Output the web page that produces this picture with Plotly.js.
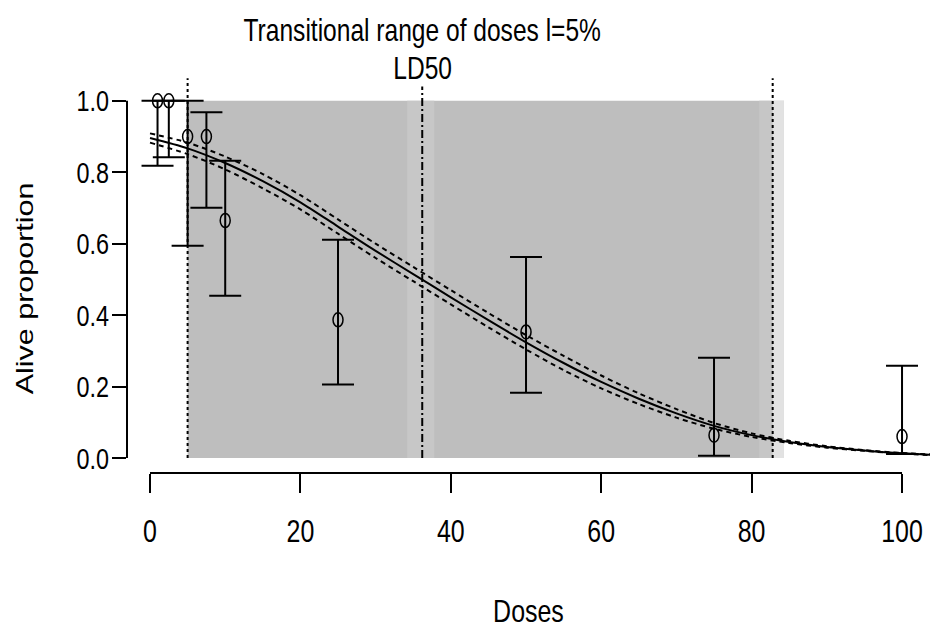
<!DOCTYPE html>
<html>
<head>
<meta charset="utf-8">
<script src="https://cdn.plot.ly/plotly-3.0.1.min.js"></script>
<style>
  html, body { margin: 0; padding: 0; background: #ffffff; }
  #chart { width: 930px; height: 629px; }
</style>
</head>
<body>
<div id="chart"></div>
<script>
// Observed alive proportions with their confidence limits
const doses      = [1, 2.5, 5, 7.5, 10, 25, 50, 75, 100];
const alive      = [1.0, 1.0, 0.9, 0.9, 0.665, 0.387, 0.353, 0.064, 0.060];
const aliveUpper = [1.0, 1.0, 1.0, 0.968, 0.832, 0.611, 0.563, 0.281, 0.258];
const aliveLower = [0.818, 0.842, 0.594, 0.701, 0.454, 0.206, 0.183, 0.006, 0.011];

// Fitted dose-response curve and its confidence envelope
const fitDoses = [0, 5, 10, 15, 20, 25, 30, 35, 40, 45, 50, 55, 60, 65, 70, 75, 80, 85, 90, 95, 100, 104];
const fitAlive = [0.896, 0.867, 0.826, 0.775, 0.716, 0.648, 0.580, 0.515, 0.450, 0.386, 0.324, 0.266, 0.213, 0.166, 0.125, 0.090, 0.064, 0.045, 0.031, 0.021, 0.013, 0.009];
const fitUpper = [0.909, 0.883, 0.844, 0.795, 0.736, 0.668, 0.600, 0.535, 0.470, 0.406, 0.344, 0.286, 0.231, 0.181, 0.137, 0.098, 0.069, 0.048, 0.033, 0.022, 0.014, 0.010];
const fitLower = [0.883, 0.851, 0.808, 0.755, 0.696, 0.628, 0.560, 0.495, 0.430, 0.366, 0.304, 0.246, 0.195, 0.151, 0.113, 0.082, 0.059, 0.042, 0.029, 0.020, 0.012, 0.008];

// LD50 and transitional range (l = 5%) with their confidence bands
const ld50 = 36.2;
const ld50Band = [34.2, 37.8];
const trLow = 5;
const trHigh = 82.8;
const trHighBand = [81.0, 84.3];

// Axis ticks
const xTicks = [0, 20, 40, 60, 80, 100];
const yTicks = [0, 0.2, 0.4, 0.6, 0.8, 1.0];
const yTickText = ['0.0', '0.2', '0.4', '0.6', '0.8', '1.0'];

const font = '"Liberation Sans", Arial, sans-serif';
// Horizontal squeeze applied to every label so it renders as a condensed face
const squeeze = 0.78;

const traces = [
  {
    x: fitDoses, y: fitUpper, type: 'scatter', mode: 'lines',
    line: { color: '#000', width: 2, dash: '5px,4px', shape: 'spline', smoothing: 0.8 },
    hoverinfo: 'skip', showlegend: false
  },
  {
    x: fitDoses, y: fitLower, type: 'scatter', mode: 'lines',
    line: { color: '#000', width: 2, dash: '5px,4px', shape: 'spline', smoothing: 0.8 },
    hoverinfo: 'skip', showlegend: false
  },
  {
    x: fitDoses, y: fitAlive, type: 'scatter', mode: 'lines',
    line: { color: '#000', width: 2, shape: 'spline', smoothing: 0.8 },
    showlegend: false
  },
  {
    x: doses, y: alive, type: 'scatter', mode: 'markers',
    marker: { size: 2, color: 'rgba(0,0,0,0)' },
    error_y: {
      type: 'data', symmetric: false,
      array: aliveUpper.map((u, i) => u - alive[i]),
      arrayminus: alive.map((v, i) => v - aliveLower[i]),
      color: '#000', thickness: 2, width: 16
    },
    showlegend: false
  }
];

const shapes = [];
// Transitional range band, then lighter bands for the LD50 and upper-bound intervals
shapes.push({ type: 'rect', xref: 'x', yref: 'y', x0: trLow, x1: trHighBand[1], y0: 0, y1: 1,
  fillcolor: '#bebebe', line: { width: 0 }, layer: 'below' });
shapes.push({ type: 'rect', xref: 'x', yref: 'y', x0: ld50Band[0], x1: ld50Band[1], y0: 0, y1: 1,
  fillcolor: '#c7c7c7', line: { width: 0 }, layer: 'below' });
shapes.push({ type: 'rect', xref: 'x', yref: 'y', x0: trHighBand[0], x1: trHigh, y0: 0, y1: 1,
  fillcolor: '#c6c6c6', line: { width: 0 }, layer: 'below' });
shapes.push({ type: 'rect', xref: 'x', yref: 'y', x0: trHigh, x1: trHighBand[1], y0: 0, y1: 1,
  fillcolor: '#e2e2e2', line: { width: 0 }, layer: 'below' });

// Vertical reference lines
[trLow, trHigh].forEach(v => shapes.push({ type: 'line', xref: 'x', yref: 'y', x0: v, x1: v, y0: 0, y1: 1.063,
  line: { color: '#000', width: 2, dash: '3px,3px' } }));
shapes.push({ type: 'line', xref: 'x', yref: 'y', x0: ld50, x1: ld50, y0: 0, y1: 1.04,
  line: { color: '#000', width: 2, dash: '8px,3px,2px,3px' } });

// Axis lines spanning the tick range only
shapes.push({ type: 'line', xref: 'paper', yref: 'y', x0: 0, x1: 0, y0: yTicks[0], y1: yTicks[yTicks.length - 1],
  line: { color: '#000', width: 2 } });
shapes.push({ type: 'line', xref: 'x', yref: 'paper', x0: xTicks[0], x1: xTicks[xTicks.length - 1], y0: 0, y1: 0,
  line: { color: '#000', width: 2 } });

// Open point symbols
doses.forEach((d, i) => shapes.push({ type: 'circle', xref: 'x', yref: 'y',
  xsizemode: 'pixel', ysizemode: 'pixel', xanchor: d, yanchor: alive[i],
  x0: -5, x1: 5, y0: -7, y1: 7, line: { color: '#000', width: 1.5 }, fillcolor: 'rgba(0,0,0,0)' }));

const layout = {
  width: 930, height: 629,
  margin: { l: 127, r: 0, t: 68, b: 156 },
  paper_bgcolor: '#fff', plot_bgcolor: '#fff',
  showlegend: false,
  xaxis: {
    range: [-3.06, 103.72], showgrid: false, zeroline: false, showline: false,
    tickmode: 'array', tickvals: xTicks, ticktext: xTicks.map(String),
    ticks: 'outside', ticklen: 19, tickwidth: 2, tickcolor: '#000', ticklabelstandoff: 11,
    tickfont: { family: font, size: 32, color: '#000' },
    title: { text: 'Doses', font: { family: font, size: 32, color: '#000' }, standoff: 64 }
  },
  yaxis: {
    range: [-0.042, 1.092], showgrid: false, zeroline: false, showline: false,
    tickmode: 'array', tickvals: yTicks, ticktext: yTickText,
    ticks: 'outside', ticklen: 14, tickwidth: 2, tickcolor: '#000', ticklabelstandoff: -3,
    tickfont: { family: font, size: 30, color: '#000' }
  },
  shapes: shapes,
  annotations: [
    { xref: 'x', yref: 'paper', x: ld50, y: 1, yshift: 38, text: 'Transitional range of doses l=5%',
      showarrow: false, xanchor: 'center', yanchor: 'middle',
      font: { family: font, size: 31.5, color: '#000' } },
    { xref: 'x', yref: 'paper', x: ld50, y: 1, yshift: 0, text: 'LD50',
      showarrow: false, xanchor: 'center', yanchor: 'middle',
      font: { family: font, size: 31.5, color: '#000' } },
    { xref: 'paper', yref: 'y', x: -102 / 803, y: 0.475, text: 'Alive proportion', textangle: -90,
      showarrow: false, xanchor: 'center', yanchor: 'middle',
      font: { family: font, size: 30.5, color: '#000' } }
  ]
};

const gd = document.getElementById('chart');
Plotly.newPlot(gd, traces, layout, { staticPlot: true, displayModeBar: false }).then(() => {
  // Condense each label along the screen's horizontal direction, keeping its anchor in place
  gd.querySelectorAll('.main-svg text').forEach(t => {
    if (!t.textContent) return;
    const box = t.getBBox();
    const m = t.getScreenCTM();
    const rotated = m && Math.abs(m.b) > Math.abs(m.a);
    let tr = t.getAttribute('transform') || '';
    if (rotated) {
      const cy = box.y + box.height / 2;
      tr += ` translate(0,${cy}) scale(1,${squeeze}) translate(0,${-cy})`;
    } else {
      const anchor = t.getAttribute('text-anchor') || getComputedStyle(t).textAnchor || 'start';
      let cx = box.x + box.width / 2;
      if (anchor === 'end') cx = box.x + box.width;
      else if (anchor === 'start') cx = box.x;
      tr += ` translate(${cx},0) scale(${squeeze},1) translate(${-cx},0)`;
    }
    t.setAttribute('transform', tr.trim());
  });
});
</script>
</body>
</html>
